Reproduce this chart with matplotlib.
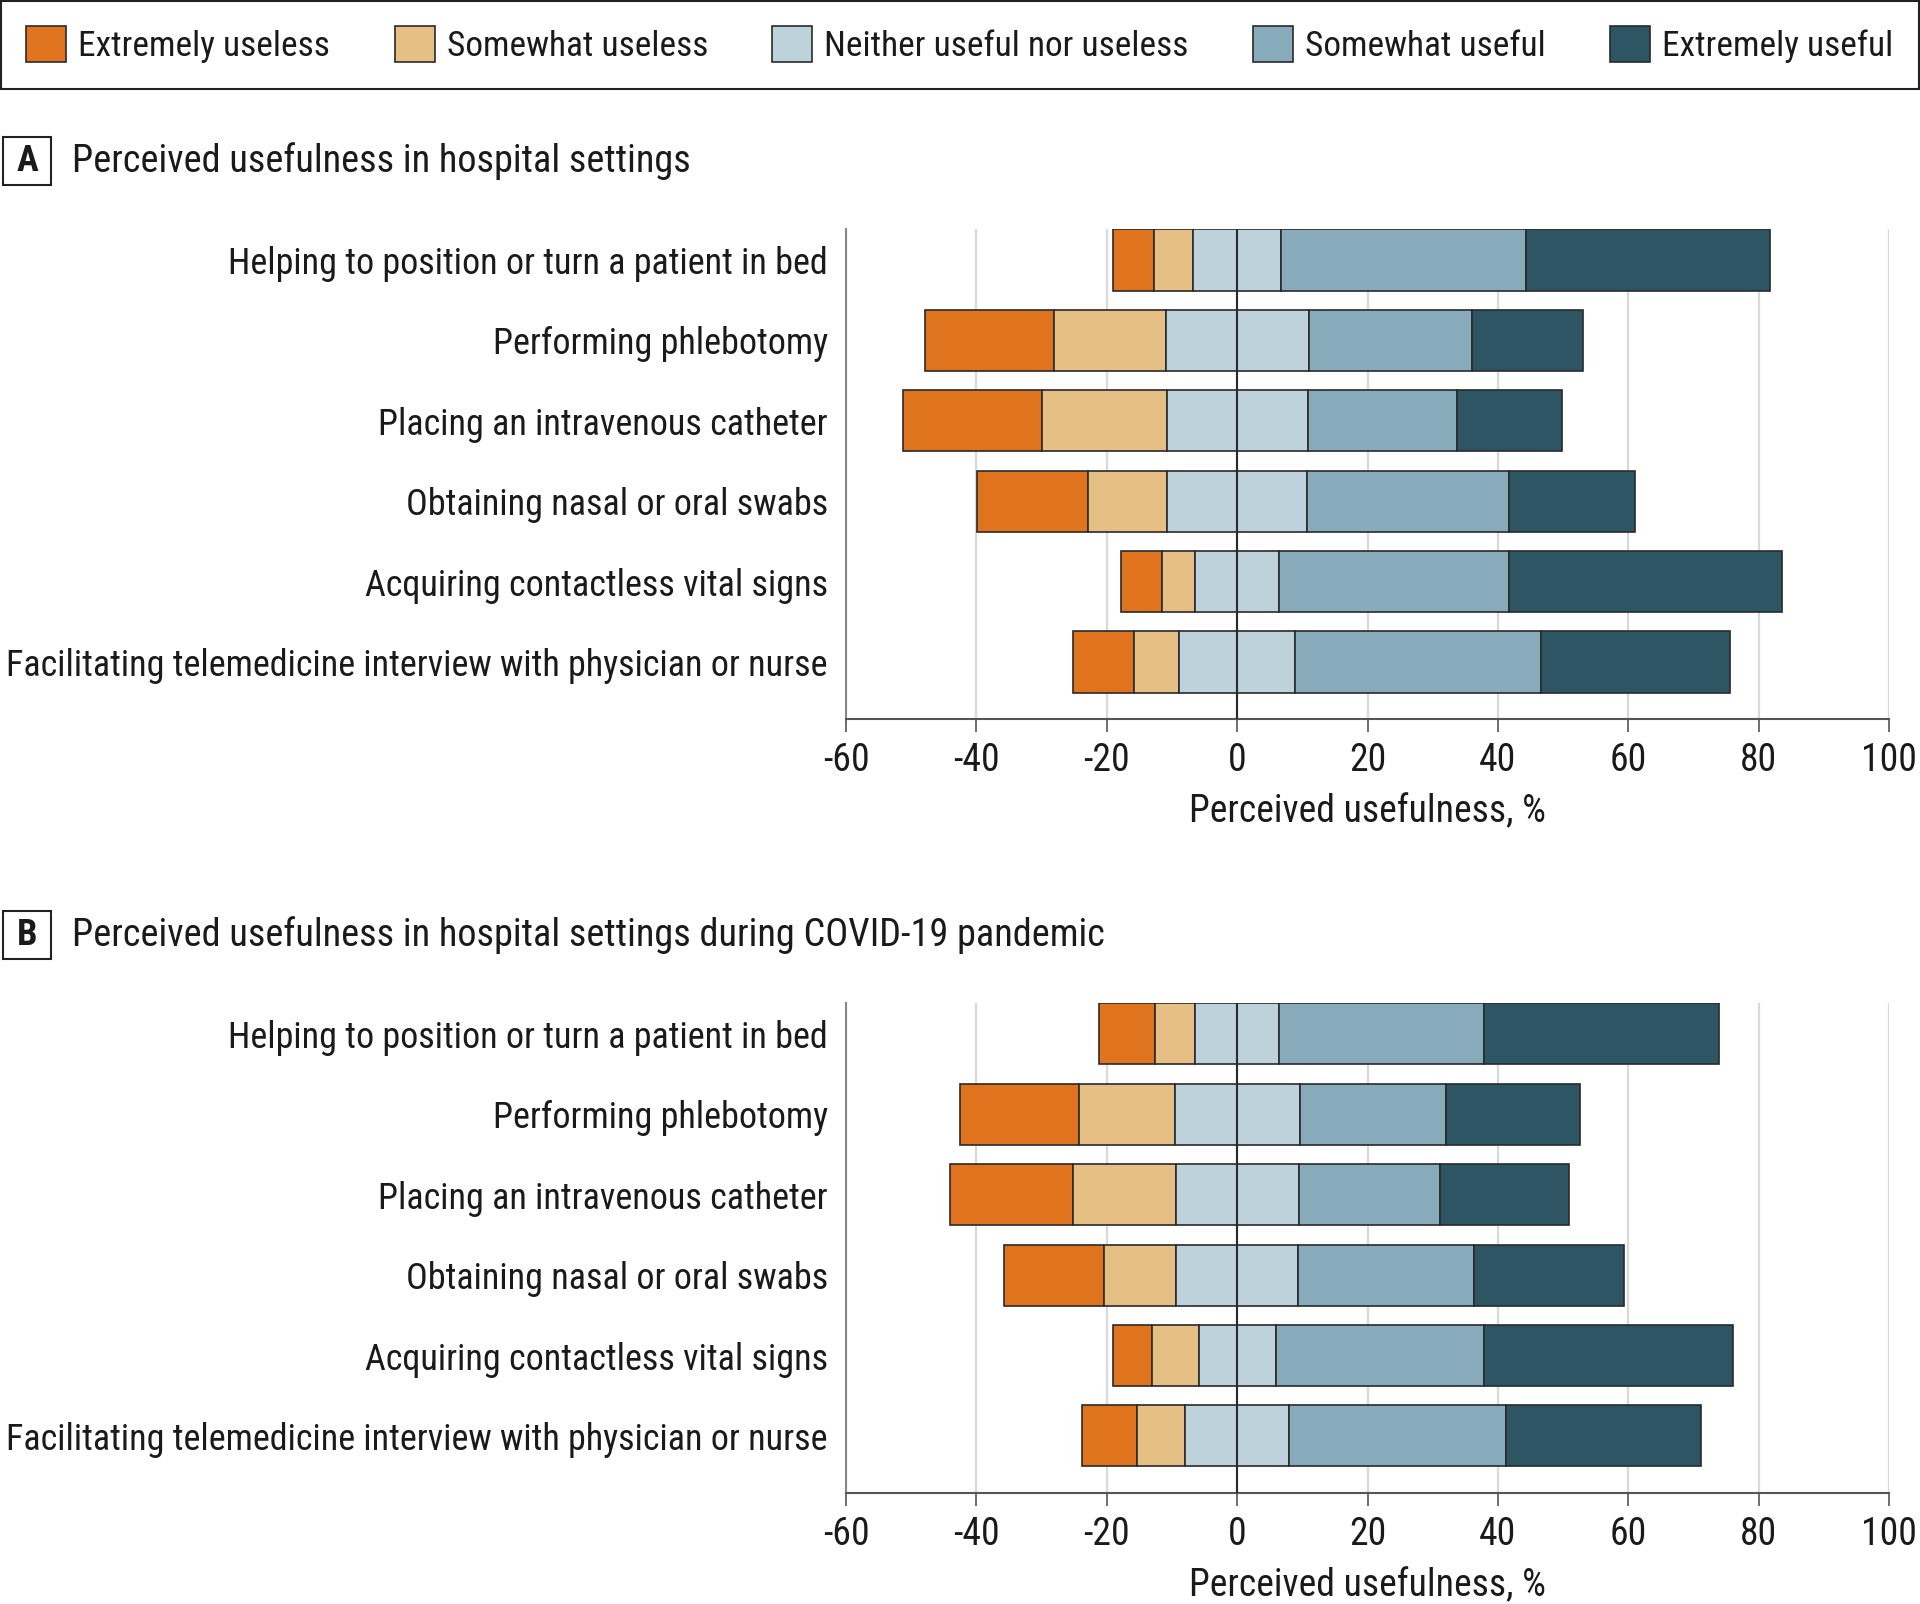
import matplotlib
matplotlib.use("Agg")
import matplotlib.pyplot as plt
from matplotlib import font_manager
from matplotlib.textpath import TextPath
from matplotlib.font_manager import FontProperties
from matplotlib.patches import Rectangle
import numpy as np

plt.rcParams['axes.unicode_minus'] = False

tasks = [
    "Helping to position or turn a patient in bed",
    "Performing phlebotomy",
    "Placing an intravenous catheter",
    "Obtaining nasal or oral swabs",
    "Acquiring contactless vital signs",
    "Facilitating telemedicine interview with physician or nurse",
]
levels = ["Extremely useless", "Somewhat useless", "Neither useful nor useless",
          "Somewhat useful", "Extremely useful"]
colors = ["#DF731E", "#E6BF85", "#BED2DB", "#88ABBB", "#2E5563"]

# percentages per task, columns follow `levels`
hospital = np.array([
    [6.4, 5.9, 13.6, 37.5, 37.5],
    [19.9, 17.1, 21.9, 25.1, 17.0],
    [21.2, 19.2, 21.6, 22.9, 16.1],
    [17.0, 12.2, 21.5, 30.9, 19.4],
    [6.2, 5.1, 12.9, 35.3, 41.8],
    [9.5, 6.8, 17.9, 37.6, 29.1],
])
covid = np.array([
    [8.6, 6.1, 12.9, 31.4, 36.1],
    [18.3, 14.6, 19.2, 22.4, 20.6],
    [18.8, 15.8, 18.9, 21.6, 19.9],
    [15.4, 11.1, 18.6, 27.1, 22.9],
    [5.9, 7.2, 11.8, 31.9, 38.3],
    [8.5, 7.4, 15.9, 33.3, 29.9],
])

# pick the narrowest family we can find
family = "DejaVu Sans"
for name in ["Roboto Condensed", "Liberation Sans Narrow", "Open Sans Condensed",
             "Lato", "Roboto", "Liberation Sans"]:
    try:
        font_manager.findfont(FontProperties(family=name), fallback_to_default=False)
        family = name
        break
    except ValueError:
        pass
plt.rcParams['font.family'] = [family, 'DejaVu Sans']

DPI = 100


def fit_size(text, target_px, weight="normal"):
    # font size (pt) giving the wanted ink width in pixels
    tp = TextPath((0, 0), text, size=100, prop=FontProperties(family=family, weight=weight))
    w = tp.get_extents().width * DPI / 72
    return 100 * target_px / w


FS = fit_size(tasks[-1], 820)
FS_LEG = fit_size(levels[0], 247)
FS_TITLE = fit_size("Perceived usefulness in hospital settings", 614)

fig = plt.figure(figsize=(19.2, 16.04), dpi=DPI)


def draw_panel(ax, data):
    y = np.arange(len(tasks))
    start = -(data[:, 0] + data[:, 1] + data[:, 2] / 2)
    left = start.copy()
    handles = []
    for j in range(data.shape[1]):
        h = ax.barh(y, data[:, j], left=left, height=0.76, color=colors[j],
                    edgecolor="#2a2a2a", linewidth=1.2, zorder=2, label=levels[j])
        handles.append(h)
        left = left + data[:, j]
    ax.axvline(0, color="#2a2a2a", lw=1.5, zorder=3)
    ax.set_xlim(-60, 100)
    ax.set_ylim(5.71, -0.385)
    ax.set_xticks(np.arange(-60, 101, 20))
    ax.set_yticks(y)
    ax.set_yticklabels(tasks)
    ax.xaxis.grid(True, color="#d9d9d9", lw=1.6, zorder=0)
    ax.set_axisbelow(True)
    for s in ["top", "right"]:
        ax.spines[s].set_visible(False)
    ax.spines["left"].set_color("#888888")
    ax.spines["left"].set_linewidth(1.5)
    ax.spines["bottom"].set_color("#555555")
    ax.spines["bottom"].set_linewidth(1.5)
    ax.tick_params(axis="y", length=0, pad=13, labelsize=FS, colors="#1a1a1a")
    ax.tick_params(axis="x", length=9.5, width=1.2, color="#555555", pad=7,
                   labelsize=FS * 1.04, labelcolor="#1a1a1a")
    ax.set_xlabel("Perceived usefulness, %", fontsize=FS * 1.04, labelpad=10, color="#1a1a1a")
    return handles


axA = fig.add_axes([0.4406, 0.5517, 0.5433, 0.3055])
handles = draw_panel(axA, hospital)
axB = fig.add_axes([0.4406, 0.0692, 0.5433, 0.3055])
draw_panel(axB, covid)

W, H = 1920, 1604
for letter, title, ypix in [("A", "Perceived usefulness in hospital settings", 161),
                            ("B", "Perceived usefulness in hospital settings during COVID-19 pandemic", 935)]:
    yf = 1 - ypix / H
    fig.add_artist(Rectangle((3 / W, 1 - (ypix + 24) / H), 48 / W, 48 / H,
                             transform=fig.transFigure, fc="white", ec="#222222", lw=1.5))
    fig.text(27 / W, yf, letter, fontsize=FS_TITLE * 0.95, fontweight="bold",
             ha="center", va="center", color="#1a1a1a")
    fig.text(72 / W, yf, title, fontsize=FS_TITLE, ha="left", va="center", color="#1a1a1a")

em = FS_LEG * DPI / 72
leg = fig.legend(handles, levels, loc="upper left", ncol=5, mode="expand",
                 bbox_to_anchor=(0.0005, 0.5, 0.999, 0.4995),
                 borderaxespad=0, fontsize=FS_LEG, handlelength=40 / em, handleheight=42 / em,
                 handletextpad=12 / em, columnspacing=60 / em, borderpad=0.72,
                 fancybox=False, framealpha=1, edgecolor="#222222")
leg.get_frame().set_linewidth(1.5)
for t in leg.get_texts():
    t.set_color("#1a1a1a")

fig.savefig("out.png", dpi=DPI)
